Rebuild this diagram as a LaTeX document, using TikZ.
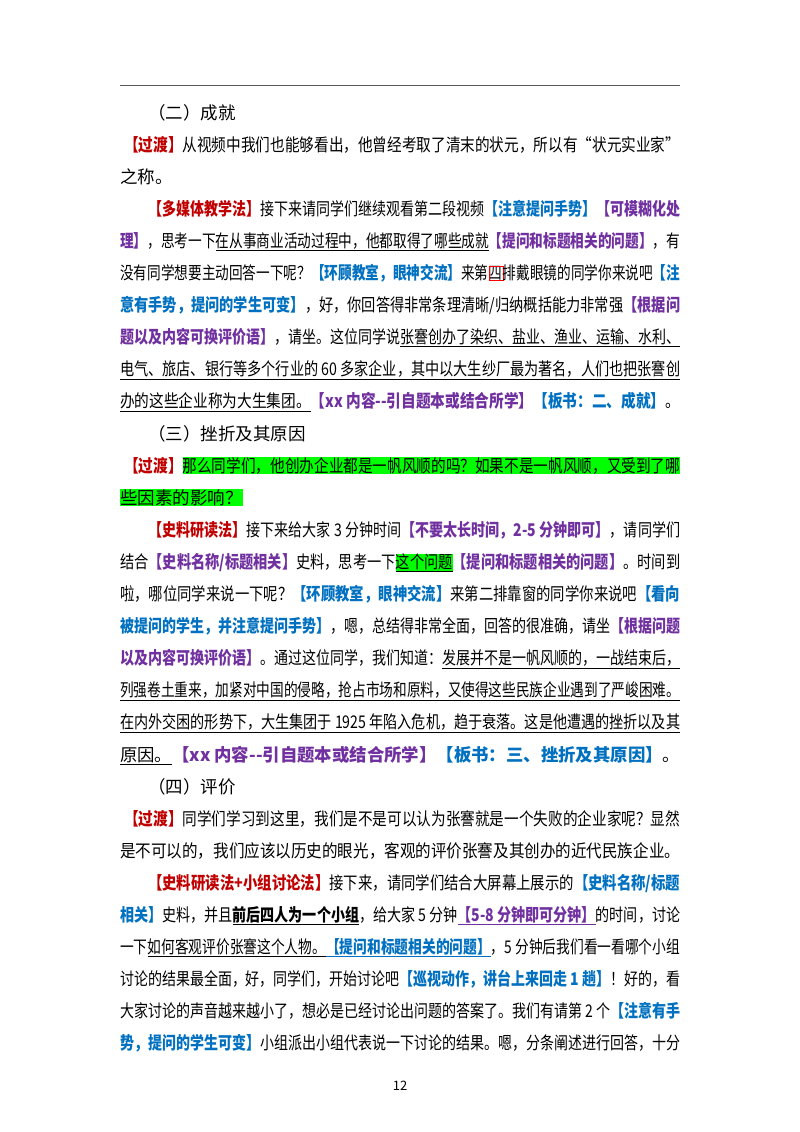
\documentclass[tikz,border=0pt]{standalone}
\usepackage{fontspec}
\usepackage{graphicx}
\setmainfont{Noto Sans CJK SC}
\XeTeXlinebreaklocale "zh"
\XeTeXlinebreakskip=0pt plus 3pt
\definecolor{myred}{HTML}{C00000}
\definecolor{myblue}{HTML}{0070C0}
\definecolor{mypur}{HTML}{7030A0}
\newcommand{\R}[1]{\textcolor{myred}{\textbf{#1}}}
\newcommand{\B}[1]{\textcolor{myblue}{\textbf{#1}}}
\newcommand{\Pu}[1]{\textcolor{mypur}{\textbf{#1}}}
\newcommand{\hl}[1]{{\setlength\fboxsep{0pt}\colorbox{green}{#1}}}
\newcommand{\U}[1]{\underline{#1}}
\newsavebox{\lnbox}
\newcommand{\Ln}[3]{\node[txt] at (#2,{119+32.1*#1}) {\sbox\lnbox{#3}\ifdim\wd\lnbox>\dimexpr680pt-#2pt\relax\resizebox{\dimexpr680pt-#2pt\relax}{\height}{\usebox\lnbox}\else\makebox[\dimexpr680pt-#2pt\relax][s]{#3}\fi};}
\newcommand{\Lf}[3]{\node[txt] at (#2,{119+32.1*#1}) {\sbox\lnbox{#3}\ifdim\wd\lnbox>\dimexpr680pt-#2pt\relax\resizebox{\dimexpr680pt-#2pt\relax}{\height}{\usebox\lnbox}\else\usebox\lnbox\fi};}
\begin{document}
\begin{tikzpicture}[x=1pt,y=-1pt,txt/.style={anchor=base west,inner sep=0pt,font=\fontsize{17.5pt}{20pt}\selectfont}]
\fill[white] (0,0) rectangle (800,1132);
\useasboundingbox (0,0) rectangle (800,1132);
\draw[gray!70!black,line width=0.6pt] (120,85) -- (680,85);
\Lf{0}{148}{（二）成就}
\Ln{1}{124}{\R{【过渡】}从视频中我们也能够看出，他曾经考取了清末的状元，所以有“状元实业家”}
\Lf{2}{120}{之称。}
\Ln{3}{148}{\R{【多媒体教学法】}接下来请同学们继续观看第二段视频\B{【注意提问手势】}\Pu{【可模糊化处}}
\Ln{4}{120}{\Pu{理】}，思考一下\U{在从事商业活动过程中，他都取得了哪些成就}\Pu{【提问和标题相关的问题】}，有}
\Ln{5}{120}{没有同学想要主动回答一下呢？\B{【环顾教室，眼神交流】}来第{\setlength\fboxsep{0pt}\fcolorbox{red}{white}{四}}排戴眼镜的同学你来说吧\B{【注}}
\Ln{6}{120}{\B{意有手势，提问的学生可变】}，好，你回答得非常条理清晰/归纳概括能力非常强\Pu{【根据问}}
\Ln{7}{120}{\Pu{题以及内容可换评价语】}，请坐。这位同学说\U{张謇创办了染织、盐业、渔业、运输、水利、}}
\Ln{8}{120}{\U{电气、旅店、银行等多个行业的 60 多家企业，其中以大生纱厂最为著名，人们也把张謇创}}
\Lf{9}{120}{\U{办的这些企业称为大生集团。}\Pu{【xx 内容-{}-引自题本或结合所学】}\B{【板书：二、成就】}。}
\Lf{10}{148}{（三）挫折及其原因}
\Ln{11}{124}{\R{【过渡】}\hl{那么同学们，他创办企业都是一帆风顺的吗？如果不是一帆风顺，又受到了哪}}
\Lf{12}{120}{\hl{些因素的影响？}}
\Ln{13}{148}{\R{【史料研读法】}接下来给大家 3 分钟时间\Pu{【不要太长时间，2-5 分钟即可】}，请同学们}
\Ln{14}{120}{结合\Pu{【史料名称/标题相关】}史料，思考一下\hl{\U{这个问题}}\Pu{【提问和标题相关的问题】}。时间到}
\Ln{15}{120}{啦，哪位同学来说一下呢？\B{【环顾教室，眼神交流】}来第二排靠窗的同学你来说吧\B{【看向}}
\Ln{16}{120}{\B{被提问的学生，并注意提问手势】}，嗯，总结得非常全面，回答的很准确，请坐\Pu{【根据问题}}
\Ln{17}{120}{\Pu{以及内容可换评价语】}。通过这位同学，我们知道：\U{发展并不是一帆风顺的，一战结束后，}}
\Ln{18}{120}{\U{列强卷土重来，加紧对中国的侵略，抢占市场和原料，又使得这些民族企业遇到了严峻困难。}}
\Ln{19}{120}{\U{在内外交困的形势下，大生集团于 1925 年陷入危机，趋于衰落。这是他遭遇的挫折以及其}}
\Lf{20}{120}{\U{原因。}\Pu{【xx 内容-{}-引自题本或结合所学】}\B{【板书：三、挫折及其原因】}。}
\Lf{21}{148}{（四）评价}
\Ln{22}{124}{\R{【过渡】}同学们学习到这里，我们是不是可以认为张謇就是一个失败的企业家呢？显然}
\Lf{23}{120}{是不可以的，我们应该以历史的眼光，客观的评价张謇及其创办的近代民族企业。}
\Ln{24}{148}{\R{【史料研读法+小组讨论法】}接下来，请同学们结合大屏幕上展示的\B{【史料名称/标题}}
\Ln{25}{120}{\B{相关】}史料，并且\textbf{\U{前后四人为一个小组}}，给大家 5 分钟\Pu{\U{【5-8 分钟即可分钟】}}的时间，讨论}
\Ln{26}{120}{一下\U{如何客观评价张謇这个人物。}\B{\U{【提问和标题相关的问题】}}，5 分钟后我们看一看哪个小组}
\Ln{27}{120}{讨论的结果最全面，好，同学们，开始讨论吧\B{【巡视动作，讲台上来回走 1 趟】}！好的，看}
\Ln{28}{120}{大家讨论的声音越来越小了，想必是已经讨论出问题的答案了。我们有请第 2 个\B{【注意有手}}
\Ln{29}{120}{\B{势，提问的学生可变】}小组派出小组代表说一下讨论的结果。嗯，分条阐述进行回答，十分}
\node[anchor=base,inner sep=0pt,font=\fontsize{13pt}{15pt}\selectfont] (pg) at (400,1090) {12};
\end{tikzpicture}
\end{document}
